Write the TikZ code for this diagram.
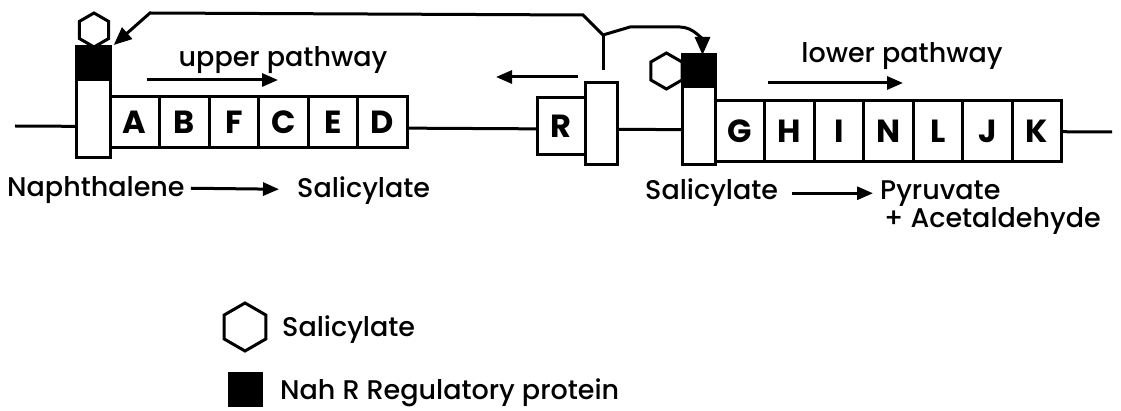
\documentclass[tikz,border=0pt]{standalone}
\usepackage{fontspec}
\setmainfont{Poppins}[UprightFont=* Medium,BoldFont=* Bold]
\usetikzlibrary{positioning,shapes.geometric,arrows.meta}
\tikzset{
  gene/.style={draw,fill=white,line width=3pt,outer sep=0pt,inner sep=0pt,
    minimum width=49.5pt,minimum height=51pt,font=\fontsize{32}{32}\selectfont\bfseries},
  prom/.style={draw,fill=white,line width=3pt,outer sep=0pt,inner sep=0pt,
    minimum width=34pt},
  nahr/.style={prom,fill=black},
  salhex/.style={draw,fill=white,regular polygon,regular polygon sides=6,
    shape border rotate=30,line width=3pt,inner sep=0pt,outer sep=0pt},
  lbl/.style={inner sep=0pt,font=\fontsize{27}{27}\selectfont},
  arr/.style={line width=3pt,-{Triangle[length=16pt,width=13pt]}},
  feed/.style={line width=3pt,-{Triangle[length=18pt,width=15pt]}}
}
\begin{document}
\begin{tikzpicture}[x=1pt,y=-1pt]
  \useasboundingbox (0,0) rectangle (1121,411);
  % DNA strand
  \coordinate (dnaL) at (15,126);
  \coordinate (dnaR) at (1112,132);
  \draw[line width=3pt] (dnaL) -- (dnaR);
  % upper pathway operon
  \node[prom,minimum height=78pt] (p1) at (93,119) {};
  \node[nahr,minimum height=33pt,above=0pt of p1] (p1r) {};
  \node[salhex,minimum size=34pt] (s1) at (94,30) {};
  \node[gene] (gA) at (134.75,122.5) {A};
  \node[gene,right=0pt of gA] (gB) {B};
  \node[gene,right=0pt of gB] (gF) {F};
  \node[gene,right=0pt of gF] (gC) {C};
  \node[gene,right=0pt of gC] (gE) {E};
  \node[gene,right=0pt of gE] (gD) {D};
  % nahR
  \node[gene,minimum width=48pt,minimum height=57pt] (gR) at (561,126.5) {R};
  \node[prom,minimum width=32pt,minimum height=82pt] (pR) at (601,124) {};
  % lower pathway operon
  \node[prom,minimum width=33pt,minimum height=78pt] (p2) at (698.5,126) {};
  \node[nahr,minimum width=33pt,minimum height=32pt,above=0pt of p2] (p2r) {};
  \node[salhex,minimum size=36pt,left=0pt of p2r] (s2) {};
  \node[gene,minimum height=61pt] (gG) at (739.75,131.5) {G};
  \node[gene,minimum height=61pt,right=0pt of gG] (gH) {H};
  \node[gene,minimum height=61pt,right=0pt of gH] (gI) {I};
  \node[gene,minimum height=61pt,right=0pt of gI] (gN) {N};
  \node[gene,minimum height=61pt,right=0pt of gN] (gL) {L};
  \node[gene,minimum height=61pt,right=0pt of gL] (gJ) {J};
  \node[gene,minimum height=61pt,right=0pt of gJ] (gK) {K};
  % NahR feedback
  \coordinate (stem) at (603,70);
  \coordinate (fork) at (603,35);
  \draw[line width=3pt] (stem) -- (fork);
  \draw[feed] (fork) -- (583,15) -- (150,13) -- ([xshift=5pt,yshift=-15pt]s1.east);
  \draw[feed] (fork) -- (630,27) -- (680,27) to[out=0,in=90] ([xshift=4pt]p2r.north);
  % direction arrows
  \node[lbl,anchor=base] (upT) at (283,67) {upper pathway};
  \coordinate (up1) at (147,80);
  \coordinate (up2) at (278,80);
  \draw[arr] (up1) -- (up2);
  \coordinate (rl1) at (578,77);
  \coordinate (rl2) at (496,77);
  \draw[arr] (rl1) -- (rl2);
  \node[lbl,anchor=base] (loT) at (902,63) {lower pathway};
  \coordinate (lo1) at (768,83);
  \coordinate (lo2) at (903,83);
  \draw[arr] (lo1) -- (lo2);
  % substrates and products
  \node[lbl,anchor=base west] (naph) at (7,197) {Naphthalene};
  \node[lbl,anchor=base west] (sal1) at (297,198) {Salicylate};
  \draw[arr] ([xshift=6pt,yshift=6pt]naph.mid east) -- ([xshift=-18pt,yshift=6pt]sal1.mid west);
  \node[lbl,anchor=base west] (sal2) at (645,200) {Salicylate};
  \node[lbl,anchor=base west] (pyr) at (880,200) {Pyruvate};
  \node[lbl,anchor=base west] (acet) at (884,228) {+ Acetaldehyde};
  \draw[arr] ([xshift=14pt,yshift=4pt]sal2.mid east) -- ([xshift=-7pt,yshift=4pt]pyr.mid west);
  % key
  \node[salhex,minimum size=48pt] (keyS) at (245,327) {};
  \node[lbl,anchor=base west] (keyST) at (282,337) {Salicylate};
  \node[draw,fill=black,minimum size=34pt,inner sep=0pt] (keyR) at (245,389) {};
  \node[lbl,anchor=base west] (keyRT) at (280,399) {Nah R Regulatory protein};
\end{tikzpicture}
\end{document}
